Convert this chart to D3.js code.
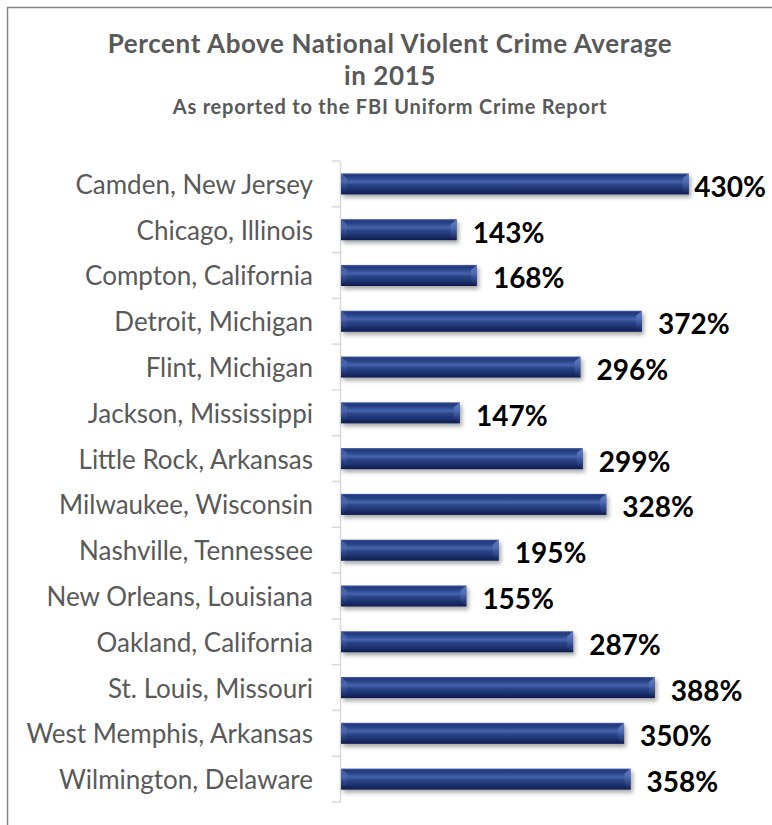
<!DOCTYPE html>
<html>
<head>
<meta charset="utf-8">
<script src="https://cdn.jsdelivr.net/npm/d3@7"></script>
<style>
  body { margin: 0; background: #fff; }
  text { font-family: Lato, "Open Sans", sans-serif; }
</style>
</head>
<body>
<script>
'use strict';

const cities = [
  "Camden, New Jersey", "Chicago, Illinois", "Compton, California",
  "Detroit, Michigan", "Flint, Michigan", "Jackson, Mississippi",
  "Little Rock, Arkansas", "Milwaukee, Wisconsin", "Nashville, Tennessee",
  "New Orleans, Louisiana", "Oakland, California", "St. Louis, Missouri",
  "West Memphis, Arkansas", "Wilmington, Delaware"
];
const percentAbove = [430, 143, 168, 372, 296, 147, 299, 328, 195, 155, 287, 388, 350, 358];
const titleLines = ["Percent Above National Violent Crime Average", "in 2015"];
const subtitle = "As reported to the FBI Uniform Crime Report";

const width = 772;
const height = 825;

const data = cities.map((c, i) => ({ city: c, value: percentAbove[i] }));

const svg = d3.select('body').append('svg')
  .attr('width', width)
  .attr('height', height);

svg.append('rect')
  .attr('width', width).attr('height', height)
  .attr('fill', '#fff');

// chart frame (runs off the right and bottom)
svg.append('rect')
  .attr('x', 7.5).attr('y', 7.5)
  .attr('width', 900).attr('height', 900)
  .attr('fill', 'none')
  .attr('stroke', '#858585')
  .attr('stroke-width', 1.5);

const defs = svg.append('defs');

const grad = defs.append('linearGradient')
  .attr('id', 'barGrad')
  .attr('x1', 0).attr('y1', 0).attr('x2', 0).attr('y2', 1);
[[0, '#4863ad'], [0.08, '#22397e'], [0.22, '#2a4589'], [0.40, '#4764ad'],
 [0.55, '#2a4488'], [0.80, '#1b2f6c'], [1, '#0f1c4c']]
  .forEach(s => grad.append('stop').attr('offset', s[0]).attr('stop-color', s[1]));

const capGrad = defs.append('linearGradient')
  .attr('id', 'capGrad')
  .attr('x1', 0).attr('y1', 0).attr('x2', 0).attr('y2', 1);
[[0, '#7f97d2'], [0.45, '#4b68b0'], [1, '#14245a']]
  .forEach(s => capGrad.append('stop').attr('offset', s[0]).attr('stop-color', s[1]));

const shadow = defs.append('filter')
  .attr('id', 'shadow')
  .attr('x', '-5%').attr('y', '-30%').attr('width', '115%').attr('height', '190%');
shadow.append('feDropShadow')
  .attr('dx', 2).attr('dy', 3)
  .attr('stdDeviation', 2.2)
  .attr('flood-color', '#000')
  .attr('flood-opacity', 0.35);

// titles
const title = svg.append('g').attr('fill', '#595959').attr('font-weight', 'bold').attr('text-anchor', 'middle');
title.selectAll('.t')
  .data(titleLines)
  .enter()
  .append('text')
  .attr('x', 390)
  .attr('y', (d, i) => 53 + i * 32)
  .style('font-size', '26px')
  .style('letter-spacing', '0.6px')
  .text(d => d);
title.append('text')
  .attr('x', 390)
  .attr('y', 114)
  .style('font-size', '20px')
  .style('letter-spacing', '0.8px')
  .text(subtitle);

// scales
const yScale = d3.scaleBand()
  .domain(cities)
  .range([161, 802])
  .paddingInner(0.54)
  .paddingOuter(0.27);

const xScale = d3.scaleLinear()
  .domain([0, 450])
  .range([341, 705]);

// category axis
const axisG = svg.append('g')
  .attr('transform', 'translate(340,0)')
  .call(d3.axisLeft(yScale).tickSize(0).tickPadding(27));
axisG.select('.domain').attr('stroke', '#d9d9d9').attr('stroke-width', 1.5);
axisG.selectAll('.tick text')
  .attr('fill', '#595959')
  .attr('dy', null)
  .attr('dominant-baseline', 'central')
  .style('font-size', '26px')
  .style('font-family', 'Lato, sans-serif');

// boundary ticks between categories
const bounds = d3.range(cities.length + 1).map(i => yScale.range()[0] + i * yScale.step());
axisG.selectAll('.bound')
  .data(bounds)
  .enter()
  .append('line')
  .attr('x1', -8).attr('x2', 0)
  .attr('y1', d => d).attr('y2', d => d)
  .attr('stroke', '#d9d9d9')
  .attr('stroke-width', 1.5);

// bars
const bars = svg.append('g');
const bar = bars.selectAll('.bar')
  .data(data)
  .enter()
  .append('g')
  .attr('filter', 'url(#shadow)');

bar.append('rect')
  .attr('x', xScale(0))
  .attr('y', d => yScale(d.city))
  .attr('width', d => xScale(d.value) - xScale(0))
  .attr('height', yScale.bandwidth())
  .attr('fill', 'url(#barGrad)');

// bevelled end caps
bar.append('path')
  .attr('d', d => {
    let x1 = xScale(d.value);
    let y0 = yScale(d.city);
    let y1 = y0 + yScale.bandwidth();
    return 'M' + (x1 - 6) + ',' + (y0 + 5) + 'L' + x1 + ',' + y0 + 'L' + x1 + ',' + y1 + 'L' + (x1 - 6) + ',' + (y1 - 5) + 'Z';
  })
  .attr('fill', 'url(#capGrad)')
  .attr('opacity', 0.75);

bar.append('path')
  .attr('d', d => {
    let x0 = xScale(0);
    let y0 = yScale(d.city);
    let y1 = y0 + yScale.bandwidth();
    return 'M' + x0 + ',' + y0 + 'L' + (x0 + 6) + ',' + (y0 + 5) + 'L' + (x0 + 6) + ',' + (y1 - 5) + 'L' + x0 + ',' + y1 + 'Z';
  })
  .attr('fill', 'url(#capGrad)')
  .attr('opacity', 0.45);

// value labels
svg.append('g').selectAll('.val')
  .data(data)
  .enter()
  .append('text')
  .attr('y', d => yScale(d.city) + yScale.bandwidth() / 2 + 2)
  .attr('dominant-baseline', 'central')
  .attr('fill', '#000')
  .attr('font-weight', 'bold')
  .style('font-size', '28px')
  .text(d => d.value + '%')
  .attr('x', function(d) {
    let w = this.getComputedTextLength();
    return Math.min(xScale(d.value) + 16, 766 - w);
  });
</script>
</body>
</html>
